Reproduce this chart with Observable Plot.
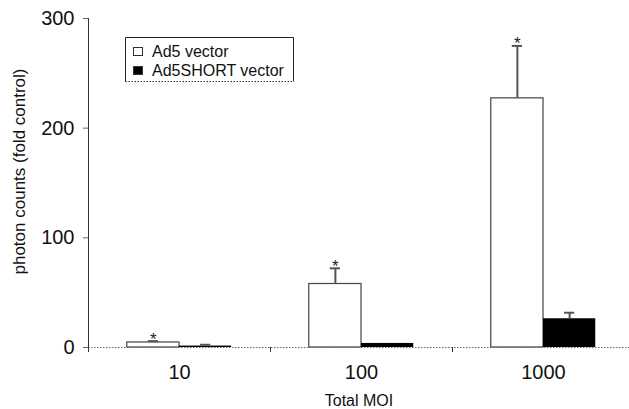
<!DOCTYPE html>
<html>
<head>
<meta charset="utf-8">
<script src="https://cdn.jsdelivr.net/npm/d3@7"></script>
<script src="https://cdn.jsdelivr.net/npm/@observablehq/plot@0.6"></script>
<style>
  body { margin: 0; background: #fff; }
  #chart { width: 629px; height: 409px; }
</style>
</head>
<body>
<div id="chart"></div>
<script>
// ---- data ----
const categories = ["10", "100", "1000"];
const series = ["Ad5 vector", "Ad5SHORT vector"];
const ad5Values = [4.6, 57.9, 227.2];
const ad5Errors = [1.2, 14.3, 47.8];
const shortValues = [1.3, 3.7, 26.2];
const shortErrors = [1.2, 0, 5.5];
const ad5Significant = [true, true, true];
const yTicks = [0, 100, 200, 300];
const xTitle = "Total MOI";
const yTitle = "photon counts (fold control)";

// ---- table built from arrays ----
const bw = 0.287;   // bar width as a fraction of one group
const cap = 0.028;  // half width of error cap
const rows = [];
categories.forEach((c, i) => {
  rows.push({cat: c, series: series[0], value: ad5Values[i], err: ad5Errors[i],
             x1: i + 0.5 - bw, x2: i + 0.5, star: ad5Significant[i]});
  rows.push({cat: c, series: series[1], value: shortValues[i], err: shortErrors[i],
             x1: i + 0.5, x2: i + 0.5 + bw, star: false});
});
rows.forEach(r => { r.xc = (r.x1 + r.x2) / 2; r.top = r.value + r.err; });
const white = rows.filter(r => r.series === series[0]);
const black = rows.filter(r => r.series === series[1]);
const withErr = rows.filter(r => r.err > 0);
const starred = rows.filter(r => r.star);

const font = "'Liberation Sans', Arial, Helvetica, sans-serif";

const chart = Plot.plot({
  width: 629,
  height: 409,
  marginTop: 18,
  marginBottom: 62,
  marginLeft: 88,
  marginRight: 0,
  style: {fontFamily: font, background: "white", color: "#111", overflow: "visible"},
  x: {type: "linear", domain: [0, categories.length], range: [88, 634]},
  y: {domain: [0, 300]},
  marks: [
    Plot.rectY(white, {x1: "x1", x2: "x2", y1: 0, y2: "value", fill: "white", stroke: "#444", strokeWidth: 1.2}),
    Plot.rectY(black, {x1: "x1", x2: "x2", y1: 0, y2: "value", fill: "black"}),
    Plot.ruleX(withErr, {x: "xc", y1: "value", y2: "top", stroke: "#555", strokeWidth: 2}),
    Plot.ruleY(withErr, {y: "top", x1: d => d.xc - cap, x2: d => d.xc + cap, stroke: "#555", strokeWidth: 2}),
    Plot.text(starred, {x: "xc", y: "top", text: () => "*", lineAnchor: "bottom", dy: 3.5, fontSize: 17, fill: "#222"}),
    Plot.ruleY([0], {stroke: "#666", strokeDasharray: "1.5,1.5"}),
    Plot.ruleX([0], {y1: 0, y2: 300, stroke: "#333"}),
    Plot.axisY({ticks: yTicks, tickSize: 5, tickPadding: 9, fontSize: 20, stroke: "#666", label: null}),
    Plot.axisX({ticks: d3.range(categories.length + 1), tickSize: 5, tickFormat: () => "", stroke: "#333", label: null}),
    Plot.axisX({ticks: categories.map((c, i) => i + 0.5), tickSize: 0, tickPadding: 17, fontSize: 20,
                tickFormat: d => categories[Math.round(d - 0.5)], label: null}),
    Plot.text([yTitle], {frameAnchor: "left", textAnchor: "middle", lineAnchor: "middle", rotate: -90,
                         dx: -69, dy: -11.5, fontSize: 17}),
    Plot.text([xTitle], {frameAnchor: "bottom", lineAnchor: "bottom", dy: 58, fontSize: 16})
  ]
});

// ---- legend (inside plot area) ----
const svg = d3.select(chart);
const lg = svg.append("g").attr("font-family", font).attr("font-size", 16).attr("fill", "#111")
  .attr("text-anchor", "start");
lg.append("rect").attr("x", 125.5).attr("y", 37.5).attr("width", 168).attr("height", 44).attr("fill", "white");
lg.append("path").attr("d", "M125.5,81.5V37.5H293.5V81.5").attr("fill", "none").attr("stroke", "#222");
lg.append("line").attr("x1", 125.5).attr("x2", 293.5).attr("y1", 81.5).attr("y2", 81.5)
  .attr("stroke", "#333").attr("stroke-dasharray", "1.5,1.5");
const swatchFill = ["white", "black"];
series.forEach((s, i) => {
  lg.append("rect").attr("x", 133.5).attr("y", 47.5 + i * 19).attr("width", 9).attr("height", 8)
    .attr("fill", swatchFill[i]).attr("stroke", "#333");
  lg.append("text").attr("x", 152).attr("y", 56.5 + i * 19).attr("text-anchor", "start").text(s);
});

document.getElementById("chart").appendChild(chart);
</script>
</body>
</html>
